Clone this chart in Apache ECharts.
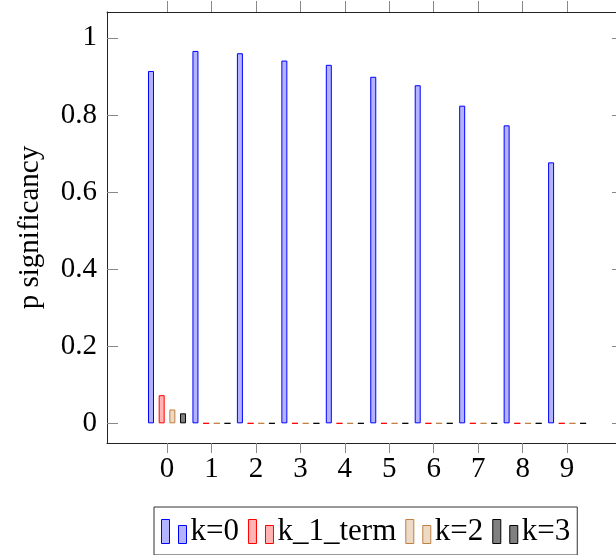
<!DOCTYPE html>
<html>
<head>
<meta charset="utf-8">
<script src="https://cdn.jsdelivr.net/npm/echarts@6/dist/echarts.min.js"></script>
<style>
  html, body { margin: 0; padding: 0; background: #fff; }
  #chart { width: 616px; height: 555px; }
</style>
</head>
<body>
<div id="chart"></div>
<script>
var xTicks = [0, 1, 2, 3, 4, 5, 6, 7, 8, 9];
var yTicks = [0, 0.2, 0.4, 0.6, 0.8, 1];
var names = ['k=0', 'k_1_term', 'k=2', 'k=3'];
var k0 = [0.914, 0.966, 0.960, 0.941, 0.930, 0.899, 0.877, 0.824, 0.773, 0.677];
var k1 = [0.073, 0, 0, 0, 0, 0, 0, 0, 0, 0];
var k2 = [0.036, 0, 0, 0, 0, 0, 0, 0, 0, 0];
var k3 = [0.026, 0, 0, 0, 0, 0, 0, 0, 0, 0];

var font = 'Liberation Serif';
var fills = ['#b3b3ff', '#ffb3b3', '#ecd9c6', '#808080'];
var borders = ['#0000ff', '#ff0000', '#bf8040', '#000000'];
var values = [k0, k1, k2, k3];

function pairs(arr) {
    return arr.map(function (v, i) { return [xTicks[i], v]; });
}

var series = names.map(function (n, i) {
    return {
        name: n,
        type: 'bar',
        barWidth: 6,
        barGap: '78%',
        data: pairs(values[i]),
        itemStyle: {
            color: fills[i],
            borderColor: borders[i],
            borderWidth: 1
        },
        emphasis: { disabled: true }
    };
});

var myChart = echarts.init(document.getElementById('chart'));
var option = {
    animation: false,
    textStyle: { fontFamily: font, color: '#000' },
    grid: { left: 107, right: -2, top: 12, bottom: 112 },
    legend: {
        left: 154,
        top: 507,
        padding: [9, 7, 8, 7],
        itemGap: 9,
        itemWidth: 25,
        itemHeight: 24,
        borderColor: '#333',
        borderWidth: 1,
        icon: 'path://M0,0h8v24h-8zM17,6h8v18h-8z',
        itemStyle: { borderWidth: 1 },
        textStyle: { fontFamily: font, fontSize: 31, color: '#000', padding: [0, 0, 0, -1] },
        data: names
    },
    xAxis: [{
        type: 'value',
        min: -1.35,
        max: 10.1,
        position: 'bottom',
        splitLine: { show: false },
        axisLine: { onZero: false, lineStyle: { color: '#222', width: 1 } },
        axisTick: { customValues: xTicks, length: 10, lineStyle: { color: '#888' } },
        axisLabel: { customValues: xTicks, fontSize: 29, color: '#000', margin: 12, fontFamily: font }
    }, {
        type: 'value',
        min: -1.35,
        max: 10.1,
        position: 'top',
        splitLine: { show: false },
        axisLine: { onZero: false, lineStyle: { color: '#222', width: 1 } },
        axisTick: { customValues: xTicks, length: 11, lineStyle: { color: '#888' } },
        axisLabel: { show: false }
    }],
    yAxis: [{
        type: 'value',
        min: -0.051,
        max: 1.067,
        name: 'p significancy',
        nameLocation: 'middle',
        nameGap: 62,
        nameTextStyle: { fontFamily: font, fontSize: 29, color: '#000' },
        splitLine: { show: false },
        axisLine: { show: true, onZero: false, lineStyle: { color: '#222', width: 1 } },
        axisTick: { customValues: yTicks, inside: true, length: 11, lineStyle: { color: '#888' } },
        axisLabel: { customValues: yTicks, fontSize: 29, color: '#000', margin: 10, fontFamily: font }
    }, {
        type: 'value',
        min: -0.051,
        max: 1.067,
        position: 'right',
        splitLine: { show: false },
        axisLine: { show: true, onZero: false, lineStyle: { color: '#222', width: 1 } },
        axisTick: { customValues: yTicks, inside: true, length: 4, lineStyle: { color: '#888' } },
        axisLabel: { show: false }
    }],
    series: series
};
myChart.setOption(option);
</script>
</body>
</html>
